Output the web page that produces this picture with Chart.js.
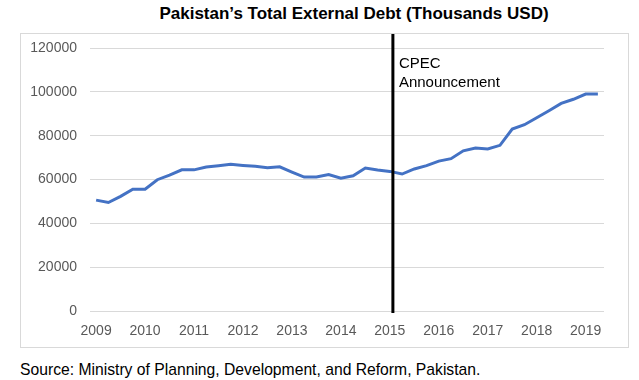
<!DOCTYPE html>
<html>
<head>
<meta charset="utf-8">
<script src="https://cdn.jsdelivr.net/npm/chart.js@4"></script>
<style>
  html, body { margin: 0; padding: 0; background: #ffffff; }
  body { width: 639px; height: 380px; position: relative; overflow: hidden; font-family: "Liberation Sans", Arial, sans-serif; }
  #title { position: absolute; left: 0; width: 708px; top: 4px; text-align: center; font-weight: bold; font-size: 17px; color: #000; white-space: nowrap; }
  #box { position: absolute; left: 20px; top: 33px; width: 607px; height: 313px; border: 1px solid #d9d9d9; }
  #box canvas { display: block; }
  #source { position: absolute; left: 20px; top: 361px; font-size: 15.7px; color: #000; white-space: nowrap; }
</style>
</head>
<body>
<div id="title">Pakistan’s Total External Debt (Thousands USD)</div>
<div id="box"><canvas id="c" width="607" height="313"></canvas></div>
<div id="source">Source: Ministry of Planning, Development, and Reform, Pakistan.</div>
<script>
// Quarterly categories, 2009 Q1 .. 2019 Q2
const years = [2009, 2010, 2011, 2012, 2013, 2014, 2015, 2016, 2017, 2018, 2019];
const quarters = [];
years.forEach(y => { for (let q = 1; q <= 4; q++) { if (y === 2019 && q > 2) break; quarters.push(y + " Q" + q); } });

// Total external debt (thousands USD)
const debt = [
  50600, 49500, 52300, 55600, 55600, 59900, 62000, 64400,
  64400, 65700, 66300, 66900, 66400, 66000, 65400, 65800,
  63400, 61100, 61100, 62300, 60600, 61700, 65200, 64300,
  63700, 62500, 64800, 66300, 68400, 69500, 73100, 74400,
  73900, 75600, 83000, 85000, 88200, 91400, 94700, 96600,
  99000, 99000
];

const yTicks = [0, 20000, 40000, 60000, 80000, 100000, 120000];

// CPEC announcement: just after the 2015 Q1 category
const cpecIndex = 24.25;
const cpecLabel = ["CPEC", "Announcement"];

const cpecPlugin = {
  id: 'cpec',
  afterDatasetsDraw(chart) {
    const xs = chart.scales.x;
    const i0 = Math.floor(cpecIndex);
    const p0 = xs.getPixelForValue(i0);
    const p1 = xs.getPixelForValue(i0 + 1);
    const x = p0 + (cpecIndex - i0) * (p1 - p0);
    const ctx = chart.ctx;
    ctx.save();
    ctx.strokeStyle = '#000000';
    ctx.lineWidth = 3;
    ctx.beginPath();
    ctx.moveTo(x, 0);
    ctx.lineTo(x, chart.chartArea.bottom + 2);
    ctx.stroke();
    ctx.fillStyle = '#000000';
    ctx.font = '15px "Liberation Sans", Arial, sans-serif';
    ctx.textBaseline = 'middle';
    ctx.textAlign = 'left';
    ctx.fillText(cpecLabel[0], x + 6, 30);
    ctx.fillText(cpecLabel[1], x + 6, 49);
    ctx.restore();
  }
};

new Chart(document.getElementById('c'), {
  type: 'line',
  data: {
    labels: quarters,
    datasets: [{
      data: debt,
      borderColor: '#4472C4',
      borderWidth: 3,
      pointRadius: 0,
      tension: 0,
      fill: false
    }]
  },
  options: {
    responsive: false,
    animation: false,
    layout: { padding: { left: 0, right: 24, top: 14, bottom: 0 } },
    plugins: { legend: { display: false }, tooltip: { enabled: false } },
    scales: {
      x: {
        type: 'category',
        offset: true,
        grid: { display: false, drawTicks: false },
        border: { display: false },
        ticks: {
          autoSkip: false,
          maxRotation: 0,
          padding: 12,
          color: '#595959',
          font: { family: '"Liberation Sans", Arial, sans-serif', size: 14 },
          callback: function (v, i) { return i % 4 === 0 ? quarters[i].slice(0, 4) : null; }
        },
        afterFit(s) { s.height = 36; s.paddingLeft = 0; s.paddingRight = 0; }
      },
      y: {
        min: 0,
        max: 120000,
        afterBuildTicks(s) { s.ticks = yTicks.map(v => ({ value: v })); },
        grid: { color: '#d9d9d9', lineWidth: 1, drawTicks: false },
        border: { display: false },
        ticks: {
          padding: 13,
          color: '#595959',
          font: { family: '"Liberation Sans", Arial, sans-serif', size: 14 },
          callback: v => String(v)
        },
        afterFit(s) { s.width = 69; s.paddingTop = 0; s.paddingBottom = 0; }
      }
    }
  },
  plugins: [cpecPlugin]
});
</script>
</body>
</html>
